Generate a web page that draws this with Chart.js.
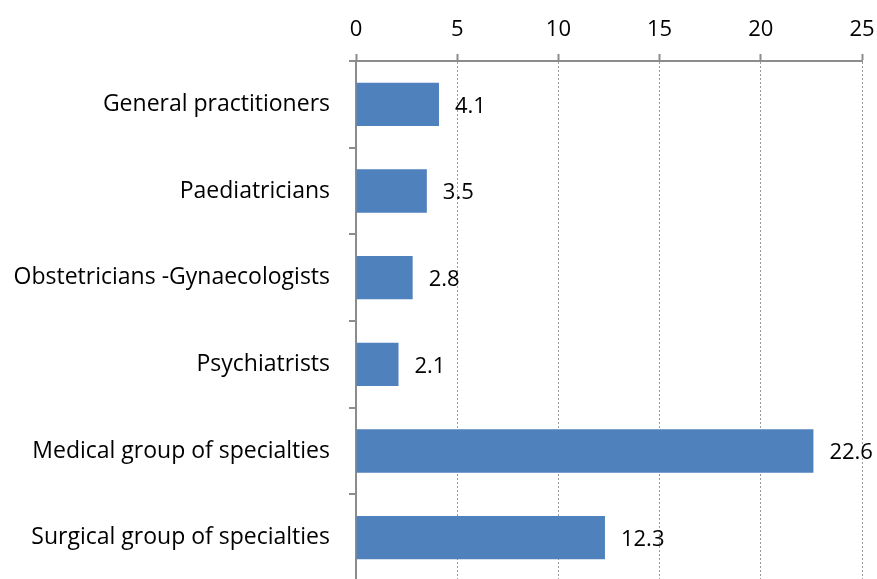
<!DOCTYPE html>
<html>
<head>
<meta charset="utf-8">
<script src="https://cdn.jsdelivr.net/npm/chart.js@4/dist/chart.umd.min.js"></script>
<style>
  html, body { margin: 0; padding: 0; background: #fff; overflow: hidden; }
  canvas { display: block; }
</style>
</head>
<body>
<canvas id="chart" width="877" height="582"></canvas>
<script>
// Data
const categories = [
    'General practitioners',
    'Paediatricians',
    'Obstetricians -Gynaecologists',
    'Psychiatrists',
    'Medical group of specialties',
    'Surgical group of specialties'
];
const values = [4.1, 3.5, 2.8, 2.1, 22.6, 12.3];
const xTicks = [0, 5, 10, 15, 20, 25];

const FONT = "'Open Sans', sans-serif";

// Value labels to the right of each bar
const barLabels = {
    id: 'barLabels',
    afterDatasetsDraw(chart) {
        const ctx = chart.ctx;
        const meta = chart.getDatasetMeta(0);
        ctx.save();
        ctx.font = '22px ' + FONT;
        ctx.fillStyle = '#000';
        ctx.textAlign = 'left';
        ctx.textBaseline = 'middle';
        meta.data.forEach((bar, i) => {
            ctx.fillText(values[i].toFixed(1), bar.x + 16, bar.y + 2);
        });
        ctx.restore();
    }
};

const ctx = document.getElementById('chart').getContext('2d');
new Chart(ctx, {
    type: 'bar',
    data: {
        labels: categories,
        datasets: [{
            data: values,
            backgroundColor: '#4F81BD',
            borderWidth: 0,
            categoryPercentage: 1,
            barPercentage: 0.5
        }]
    },
    options: {
        indexAxis: 'y',
        responsive: false,
        animation: false,
        layout: { padding: { top: 0, right: 15, bottom: 1, left: 0 } },
        plugins: {
            legend: { display: false },
            tooltip: { enabled: false }
        },
        scales: {
            x: {
                position: 'top',
                min: 0,
                max: 25,
                afterBuildTicks: (scale) => {
                    scale.ticks = xTicks.map(v => ({ value: v }));
                },
                afterFit: (scale) => {
                    scale.height = 61;
                    scale.paddingLeft = 0;
                    scale.paddingRight = 0;
                },
                grid: {
                    color: '#9a9a9a',
                    lineWidth: 1,
                    tickLength: 7,
                    tickColor: '#8c8c8c',
                    tickWidth: 2
                },
                border: {
                    display: true,
                    color: '#8c8c8c',
                    width: 2,
                    dash: [2, 2]
                },
                ticks: {
                    color: '#000',
                    padding: 11,
                    font: { family: FONT, size: 22 }
                }
            },
            y: {
                afterFit: (scale) => {
                    scale.width = 356;
                    scale.paddingTop = 0;
                    scale.paddingBottom = 0;
                },
                grid: {
                    offset: true,
                    drawOnChartArea: false,
                    color: '#8c8c8c',
                    lineWidth: 2,
                    tickLength: 7
                },
                border: {
                    display: true,
                    color: '#8c8c8c',
                    width: 2
                },
                ticks: {
                    color: '#000',
                    padding: 19,
                    font: { family: FONT, size: 23 }
                }
            }
        }
    },
    plugins: [barLabels]
});
</script>
</body>
</html>
